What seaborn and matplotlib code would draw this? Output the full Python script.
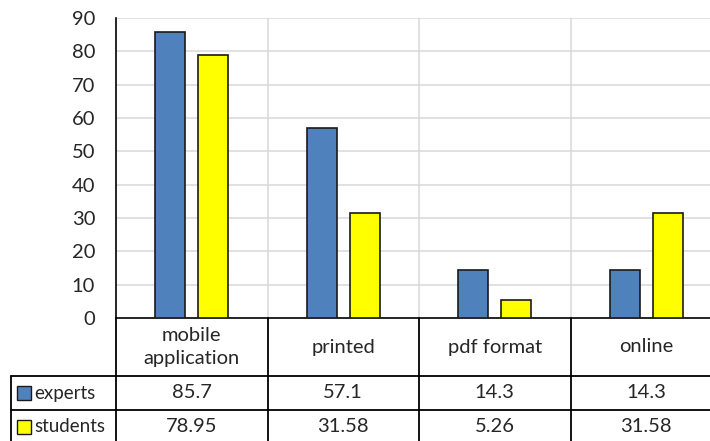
import pandas as pd
import matplotlib.pyplot as plt
import seaborn as sns

# Datos del gráfico
categorias = ['mobile\napplication', 'printed', 'pdf format', 'online']
series = ['experts', 'students']
expertos = [85.7, 57.1, 14.3, 14.3]
estudiantes = [78.95, 31.58, 5.26, 31.58]
etiquetas_exp = ['85.7', '57.1', '14.3', '14.3']
etiquetas_est = ['78.95', '31.58', '5.26', '31.58']
colores = {'experts': '#4F81BD', 'students': '#FFFF00'}

df = pd.DataFrame({
    'categoria': categorias * 2,
    'serie': ['experts'] * 4 + ['students'] * 4,
    'valor': expertos + estudiantes,
})

sns.set_style('white')
plt.rcParams['font.family'] = ['Lato', 'DejaVu Sans']
fs = 14.5

W, H = 710, 441
fig = plt.figure(figsize=(W / 100, H / 100), dpi=100)
ax = fig.add_axes([116 / W, 123 / H, 606 / W, 300 / H])

sns.barplot(data=df, x='categoria', y='valor', hue='serie', hue_order=series,
            palette=colores, saturation=1, width=0.57, gap=0.3, edgecolor='#1a1a1a',
            linewidth=1.2, legend=False, ax=ax, zorder=3)

ax.set_xlim(-0.5, 3.5)
ax.set_ylim(0, 90)
ax.set_yticks(range(0, 91, 10))
ax.set_xticks([])
ax.set_xlabel('')
ax.set_ylabel('')
ax.tick_params(axis='y', length=0, pad=15, labelsize=fs)

# rejilla
for v in range(10, 91, 10):
    ax.axhline(v, color='#d9d9d9', lw=1.1, zorder=0)
for b in [0.5, 1.5, 2.5]:
    ax.axvline(b, color='#d9d9d9', lw=1.1, zorder=0)

for s in ['top', 'right']:
    ax.spines[s].set_visible(False)
ax.spines['left'].set_color('black')
ax.spines['left'].set_linewidth(1.2)
ax.spines['bottom'].set_color('black')
ax.spines['bottom'].set_linewidth(1.2)

# Tabla de datos debajo del gráfico
tr = ax.get_xaxis_transform()
px = 1 / 300  # un pixel en coordenadas del eje y
x_izq = -0.5 - 105 / 151.5
y_enc = -58 * px
y_exp = -92 * px
y_fin = -130 * px
lw = 1.3

for b in [-0.5, 0.5, 1.5, 2.5, 3.5]:
    ax.plot([b, b], [0, y_fin], color='black', lw=lw, transform=tr, clip_on=False)
ax.plot([x_izq, x_izq], [y_enc, y_fin], color='black', lw=lw, transform=tr, clip_on=False)
for yy in [y_enc, y_exp]:
    ax.plot([x_izq, 3.5], [yy, yy], color='black', lw=lw, transform=tr, clip_on=False)

for i, cat in enumerate(categorias):
    ax.text(i, -29 * px, cat, ha='center', va='center', transform=tr,
            fontsize=fs, linespacing=1.45)
    ax.text(i, -75 * px, etiquetas_exp[i], ha='center', va='center', transform=tr, fontsize=fs)
    ax.text(i, -109 * px, etiquetas_est[i], ha='center', va='center', transform=tr, fontsize=fs)

x_cuadro = -0.5 - 92 / 151.5
x_texto = -0.5 - 82 / 151.5
for nombre, yy in [('experts', -75 * px), ('students', -109 * px)]:
    ax.plot([x_cuadro], [yy], marker='s', markersize=10, color=colores[nombre],
            markeredgecolor='#1a1a1a', markeredgewidth=1, transform=tr, clip_on=False)
    ax.text(x_texto, yy, nombre, ha='left', va='center', transform=tr, fontsize=13.5)

fig.savefig('out.png', dpi=100, facecolor='white')
